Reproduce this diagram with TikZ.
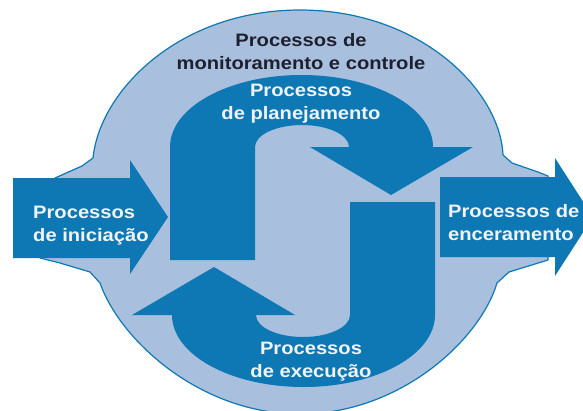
\documentclass[tikz,border=0pt]{standalone}
\usepackage{fontspec}
\newfontfamily\lblfont[FakeStretch=1.12]{Liberation Sans}
\definecolor{darkblue}{RGB}{14,120,180}
\definecolor{lightblue}{RGB}{168,191,221}
\definecolor{toptext}{RGB}{30,32,48}
\definecolor{wtext}{RGB}{240,244,250}
\tikzset{
  outershape/.style={fill=lightblue, draw=darkblue, line width=1.2pt, line join=round},
  bluearrow/.style={fill=darkblue, draw=none},
  lbl/.style={font=\lblfont\bfseries\fontsize{18}{23}\selectfont, inner sep=0pt},
}
\begin{document}
\begin{tikzpicture}[x=1pt,y=-1pt]
\useasboundingbox (0,0) rectangle (583,410);
% outer monitoring shape
\path[outershape] (40,258) -- (60,263) -- (90,272) -- (100,283)
  .. controls (120,340) and (200,414) .. (300,414)
  .. controls (400,414) and (480,340) .. (497,283)
  -- (509,272) -- (548,260) -- (548,176) -- (538,172) -- (512,163) -- (503,155)
  .. controls (500,90) and (420,10) .. (300,10)
  .. controls (180,10) and (100,90) .. (93,158)
  -- (82,166) -- (55,178) -- cycle;
% planning arrow
\path[bluearrow] (170,260) -- (170,147)
  arc[start angle=180, end angle=360, x radius=131.5, y radius=72]
  -- (473,147) -- (391,195) -- (310,147) -- (349,147)
  arc[start angle=0, end angle=-180, x radius=47, y radius=22]
  -- (255,260) -- cycle;
% execution arrow (point reflection of planning arrow)
\begin{scope}[rotate around={180:(302.5,231)}]
\path[bluearrow] (170,260) -- (170,147)
  arc[start angle=180, end angle=360, x radius=131.5, y radius=72]
  -- (473,147) -- (391,195) -- (310,147) -- (349,147)
  arc[start angle=0, end angle=-180, x radius=47, y radius=22]
  -- (255,260) -- cycle;
\end{scope}
% initiation arrow
\path[bluearrow] (13,178) -- (130,178) -- (130,160) -- (168,217) -- (130,274) -- (130,258) -- (13,258) -- cycle;
% closing arrow
\path[bluearrow] (440,177) -- (555,177) -- (555,158) -- (593,217) -- (555,276) -- (555,257) -- (440,257) -- cycle;
% labels (base anchor = baseline of last line)
\node[lbl, text=toptext, align=center, anchor=base] (mon) at (301,69) {Processos de\\monitoramento e controle};
\node[lbl, text=wtext, align=center, anchor=base] (plan) at (301,119) {Processos\\de planejamento};
\node[lbl, text=wtext, align=left, anchor=base west] (ini) at (33,241) {Processos\\de iniciação};
\node[lbl, text=wtext, align=left, anchor=base west] (enc) at (448,240) {Processos de\\enceramento};
\node[lbl, text=wtext, align=center, anchor=base] (exe) at (311,377) {Processos\\de execução};
\end{tikzpicture}
\end{document}
